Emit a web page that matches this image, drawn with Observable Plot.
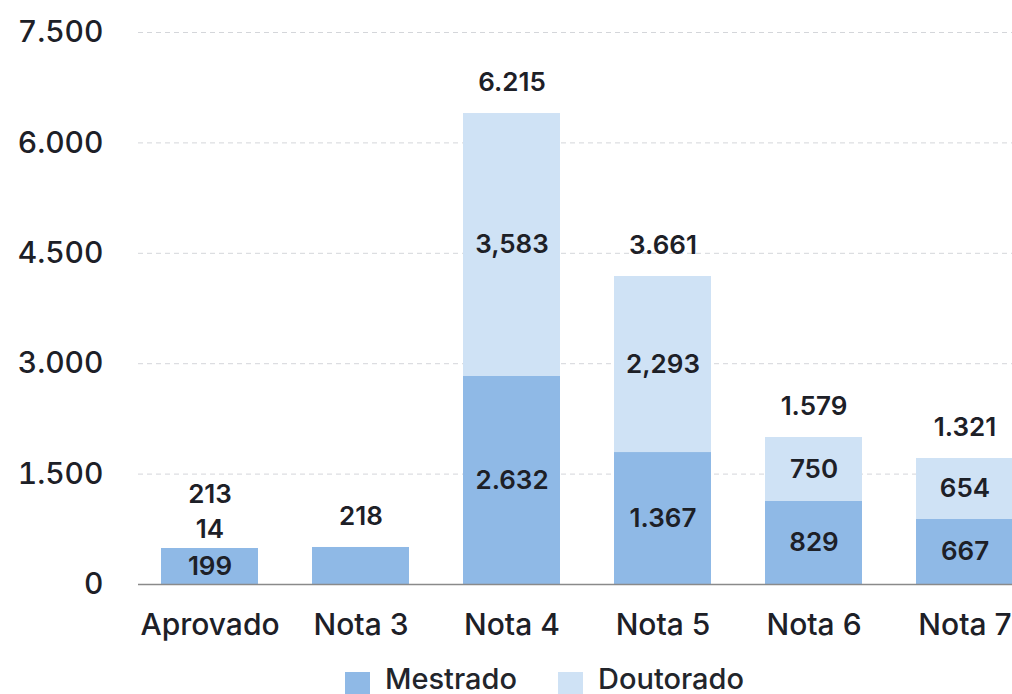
<!DOCTYPE html>
<html>
<head>
<meta charset="utf-8">
<script src="https://cdn.jsdelivr.net/npm/d3@7"></script>
<script src="https://cdn.jsdelivr.net/npm/@observablehq/plot@0.6"></script>
<style>
  html, body { margin: 0; padding: 0; background: #fff; overflow: hidden; }
  body { font-family: Inter, "Noto Sans", sans-serif; width: 1012px; height: 694px; position: relative; }
  #chart svg { display: block; overflow: visible; }
  .legend { position: absolute; left: 0; top: 650px; width: 1012px; height: 44px; }
  .legend .item { position: absolute; top: 14px; display: flex; align-items: flex-start; font-size: 29px; font-weight: 500; color: #22252b; line-height: 1; }
  .legend .sw { width: 25px; height: 26px; margin-right: 15px; margin-top: 8px; }
</style>
</head>
<body>
<div id="chart"></div>
<div class="legend" id="legend"></div>
<script>
const categories = ["Aprovado", "Nota 3", "Nota 4", "Nota 5", "Nota 6", "Nota 7"];
// bar heights as drawn in the picture
const mestrado = [489, 503, 2826, 1793, 1128, 883];
const doutorado = [0, 0, 3573, 2392, 869, 829];
// printed value labels
const mestradoLabels = ["199", "", "2.632", "1.367", "829", "667"];
const doutoradoLabels = ["14", "", "3,583", "2,293", "750", "654"];
const totalLabels = ["213", "218", "6.215", "3.661", "1.579", "1.321"];
const yTicks = [0, 1500, 3000, 4500, 6000, 7500];
const yTickLabels = ["0", "1.500", "3.000", "4.500", "6.000", "7.500"];
const seriesNames = ["Mestrado", "Doutorado"];
const seriesColors = ["#8fb9e6", "#cfe2f5"];

const rows = [];
categories.forEach((c, i) => {
  rows.push({cat: c, serie: "Mestrado", value: mestrado[i]});
  rows.push({cat: c, serie: "Doutorado", value: doutorado[i]});
});
const labelRows = categories.map((c, i) => ({
  cat: c,
  m: mestrado[i], d: doutorado[i],
  mLab: mestradoLabels[i], dLab: doutoradoLabels[i], tLab: totalLabels[i]
}));
const inDout = labelRows.filter(r => r.d > 0 && r.dLab);
const outDout = labelRows.filter(r => r.d === 0 && r.dLab);
const totalNormal = labelRows.filter(r => !(r.d === 0 && r.dLab));
const totalStacked = labelRows.filter(r => r.d === 0 && r.dLab);

const txt = "#1d2027";
const plot = Plot.plot({
  width: 1012,
  height: 650,
  marginTop: 32,
  marginBottom: 66,
  marginLeft: 138,
  marginRight: 0,
  style: {fontFamily: "Inter, 'Noto Sans', sans-serif", background: "transparent", overflow: "visible"},
  x: {domain: categories, range: [134, 1040], paddingInner: 0.36, paddingOuter: 0.18, label: null},
  y: {domain: [0, 7500], label: null},
  color: {domain: seriesNames, range: seriesColors},
  marks: [
    Plot.ruleY(yTicks.filter(t => t > 0), {stroke: "#d4d6da", strokeDasharray: "5,4", strokeWidth: 1}),
    Plot.barY(rows, {x: "cat", y: "value", fill: "serie", order: seriesNames}),
    Plot.ruleY([0], {stroke: "#8a8a8a", strokeWidth: 1.5}),
    Plot.axisY({ticks: yTicks, tickSize: 0, tickPadding: 35, tickFormat: (d) => yTickLabels[yTicks.indexOf(d)], fontSize: 30, fontWeight: 500, fill: txt, label: null}),
    Plot.axisX({tickSize: 0, tickPadding: 29, fontSize: 30, fontWeight: 500, fill: txt, label: null}),
    Plot.text(labelRows.filter(r => r.mLab), {x: "cat", y: r => r.m / 2, text: "mLab", fontSize: 26, fontWeight: 600, fill: txt}),
    Plot.text(inDout, {x: "cat", y: r => r.m + r.d / 2, text: "dLab", fontSize: 26, fontWeight: 600, fill: txt}),
    Plot.text(outDout, {x: "cat", y: r => r.m + r.d, dy: -19, text: "dLab", fontSize: 26, fontWeight: 600, fill: txt}),
    Plot.text(totalNormal, {x: "cat", y: r => r.m + r.d, dy: -31, text: "tLab", fontSize: 26, fontWeight: 600, fill: txt}),
    Plot.text(totalStacked, {x: "cat", y: r => r.m + r.d, dy: -54, text: "tLab", fontSize: 26, fontWeight: 600, fill: txt})
  ]
});
document.getElementById("chart").appendChild(plot);

const legend = document.getElementById("legend");
const legendLeft = [345, 558];
seriesNames.forEach((s, i) => {
  const it = document.createElement("div");
  it.className = "item";
  it.style.left = legendLeft[i] + "px";
  const sw = document.createElement("div");
  sw.className = "sw";
  sw.style.background = seriesColors[i];
  const lb = document.createElement("span");
  lb.textContent = s;
  it.appendChild(sw);
  it.appendChild(lb);
  legend.appendChild(it);
});
</script>
</body>
</html>
